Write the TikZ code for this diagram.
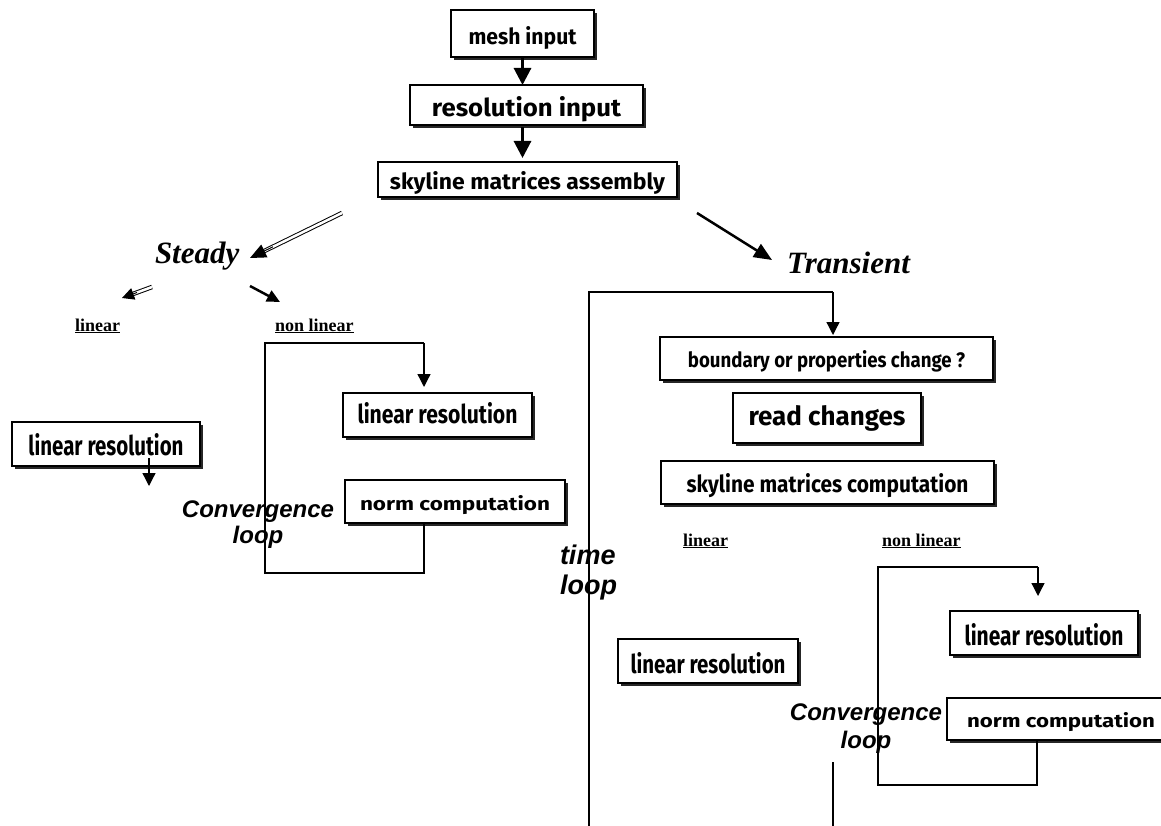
\documentclass[tikz,border=0pt]{standalone}
\usepackage{fontspec}
\usetikzlibrary{arrows.meta,shadows,calc}
\newfontfamily\lsans{Liberation Sans}
\newfontfamily\lserif{Liberation Serif}
\newfontfamily\boxfont{Fira Sans}
\newcommand{\btx}[3]{\resizebox{#1pt}{#2pt}{\boxfont\bfseries\fontsize{20}{24}\selectfont #3}}
\begin{document}
\begin{tikzpicture}[x=1pt,y=-1pt,
  every node/.style={inner sep=0pt, outer sep=0pt},
  box/.style={draw, line width=1.3pt, fill=white, text depth=0pt,
    drop shadow={shadow xshift=3pt, shadow yshift=-3pt, fill=black, opacity=0.85}},
  loopline/.style={line width=1.3pt},
  looparrow/.style={line width=1.3pt, -{Triangle[length=13pt,width=13pt]}},
  fatarrow/.style={line width=3pt, -{Triangle[length=17pt,width=17pt]}},
  diagarrow/.style={line width=2.5pt, -{Triangle[length=18pt,width=15pt]}},
  dblline/.style={double, double distance=2.5pt, line width=1pt},
  headonly/.style={line width=1pt, -{Triangle[length=16pt,width=14pt]}},
  modetext/.style={anchor=base west, font=\lserif\bfseries\itshape\fontsize{31}{36}\selectfont},
  branchtext/.style={anchor=base west, font=\lserif\bfseries\fontsize{18}{21}\selectfont},
  looptext/.style={anchor=base, font=\lsans\bfseries\itshape\fontsize{24}{28}\selectfont},
  timetext/.style={anchor=base west, font=\lsans\bfseries\itshape\fontsize{27}{31}\selectfont}
]
\useasboundingbox (0,0) rectangle (1161,826);
\clip (0,0) rectangle (1161,826);

% ---------- boxes ----------
\node[box, minimum width=143pt, minimum height=47pt, text height=23pt] (mesh) at (522.5,33.5) {\btx{108}{18}{mesh input}};
\node[box, minimum width=233pt, minimum height=40pt, text height=24pt] (resin) at (526.5,105) {\btx{189}{20}{resolution input}};
\node[box, minimum width=299pt, minimum height=35pt, text height=21pt] (skyasm) at (527.5,179.5) {\btx{275}{18}{skyline matrices assembly}};

\node[box, minimum width=188pt, minimum height=44pt, text height=22pt] (linresA) at (106,444) {\btx{155}{22}{linear resolution}};
\node[box, minimum width=189pt, minimum height=44pt, text height=16pt] (linresB) at (437.5,415) {\btx{160}{21}{linear resolution}};
\node[box, minimum width=220pt, minimum height=43pt, text height=17pt] (normB) at (455,501.5) {\btx{190}{15}{norm computation}};

\node[box, minimum width=333pt, minimum height=43pt, text height=17pt] (bound) at (826.5,358.5) {\btx{277}{17}{boundary or properties change ?}};
\node[box, minimum width=188pt, minimum height=50pt, text height=14pt] (read) at (827,418) {\btx{157}{20}{read changes}};
\node[box, minimum width=333pt, minimum height=43pt, text height=19pt] (skycomp) at (827.5,482.5) {\btx{282}{19}{skyline matrices computation}};
\node[box, minimum width=180pt, minimum height=44pt, text height=24pt] (linresC) at (708,661) {\btx{155}{21}{linear resolution}};
\node[box, minimum width=188pt, minimum height=44pt, text height=24pt] (linresD) at (1044,633) {\btx{159}{22}{linear resolution}};
\node[box, minimum width=228pt, minimum height=42pt, text height=16pt] (normD) at (1061,719) {\btx{188}{15}{norm computation}};

% ---------- texts ----------
\node[modetext] (steady) at (155,264) {Steady};
\node[modetext] (trans) at (787,273) {Transient};
\node[branchtext] (linA) at (75,331) {\underline{linear}};
\node[branchtext] (nlinA) at (275,331) {\underline{non linear}};
\node[branchtext] (linC) at (683,546) {\underline{linear}};
\node[branchtext] (nlinC) at (882,546) {\underline{non linear}};
\node[looptext] (convA1) at (258,517) {Convergence};
\node[looptext] (convA2) at (258,543) {loop};
\node[looptext] (convD1) at (866,720) {Convergence};
\node[looptext] (convD2) at (866,748) {loop};
\node[timetext] (time1) at (560,564) {time};
\node[timetext] (time2) at (560,594) {loop};

% ---------- coordinates ----------
\coordinate (sA) at (342,213);
\coordinate (sB) at (250,258);
\coordinate (lA) at (152,287);
\coordinate (lB) at (122,298);
\coordinate (nA) at (250,286);
\coordinate (nB) at (280,302);
\coordinate (tA) at (697,213);
\coordinate (tB) at (772,260);
\coordinate (aA) at (149,458);
\coordinate (aB) at (149,486);

\coordinate (L1) at (424,573);
\coordinate (L2) at (265,573);
\coordinate (L3) at (265,343);
\coordinate (L4) at (424,343);

\coordinate (T0) at (589,830);
\coordinate (T1) at (589,292);
\coordinate (T2) at (833,292);
\coordinate (T3) at (833,762);
\coordinate (T4) at (833,830);

\coordinate (R1) at (1037,785);
\coordinate (R2) at (878,785);
\coordinate (R3) at (878,567);
\coordinate (R4) at (1038,567);

% ---------- top arrows ----------
\draw[fatarrow, shorten <=1pt] (mesh.south) -- (mesh.south |- resin.north);
\draw[fatarrow, shorten <=2pt, shorten >=4pt] (resin.south -| mesh.south) -- (skyasm.north -| mesh.south);

% ---------- steady / transient ----------
\draw[dblline, shorten >=12pt] (sA) -- (sB);
\draw[headonly] ($(sA)!0.75!(sB)$) -- (sB);
\draw[dblline, shorten >=10pt] (lA) -- (lB);
\draw[line width=1pt, -{Triangle[length=12pt,width=12pt]}] ($(lA)!0.5!(lB)$) -- (lB);
\draw[line width=2.5pt, -{Triangle[length=13pt,width=12pt]}] (nA) -- (nB);
\draw[diagarrow] (tA) -- (tB);

% ---------- steady linear ----------
\draw[looparrow] (aA) -- (aB);

% ---------- steady convergence loop ----------
\draw[loopline] (normB.south -| L1) -- (L1) -- (L2) -- (L3) -- (L4);
\draw[looparrow, shorten >=6pt] (L4) -- (linresB.north -| L4);

% ---------- time loop ----------
\draw[loopline] (T0) -- (T1) -- (T2);
\draw[looparrow, shorten >=2pt] (T2) -- (bound.north -| T2);
\draw[loopline] (T3) -- (T4);

% ---------- transient convergence loop ----------
\draw[loopline] (normD.south -| R1) -- (R1) -- (R2) -- (R3) -- (R4);
\draw[looparrow, shorten >=15pt] (R4) -- (linresD.north -| R4);
\end{tikzpicture}
\end{document}
